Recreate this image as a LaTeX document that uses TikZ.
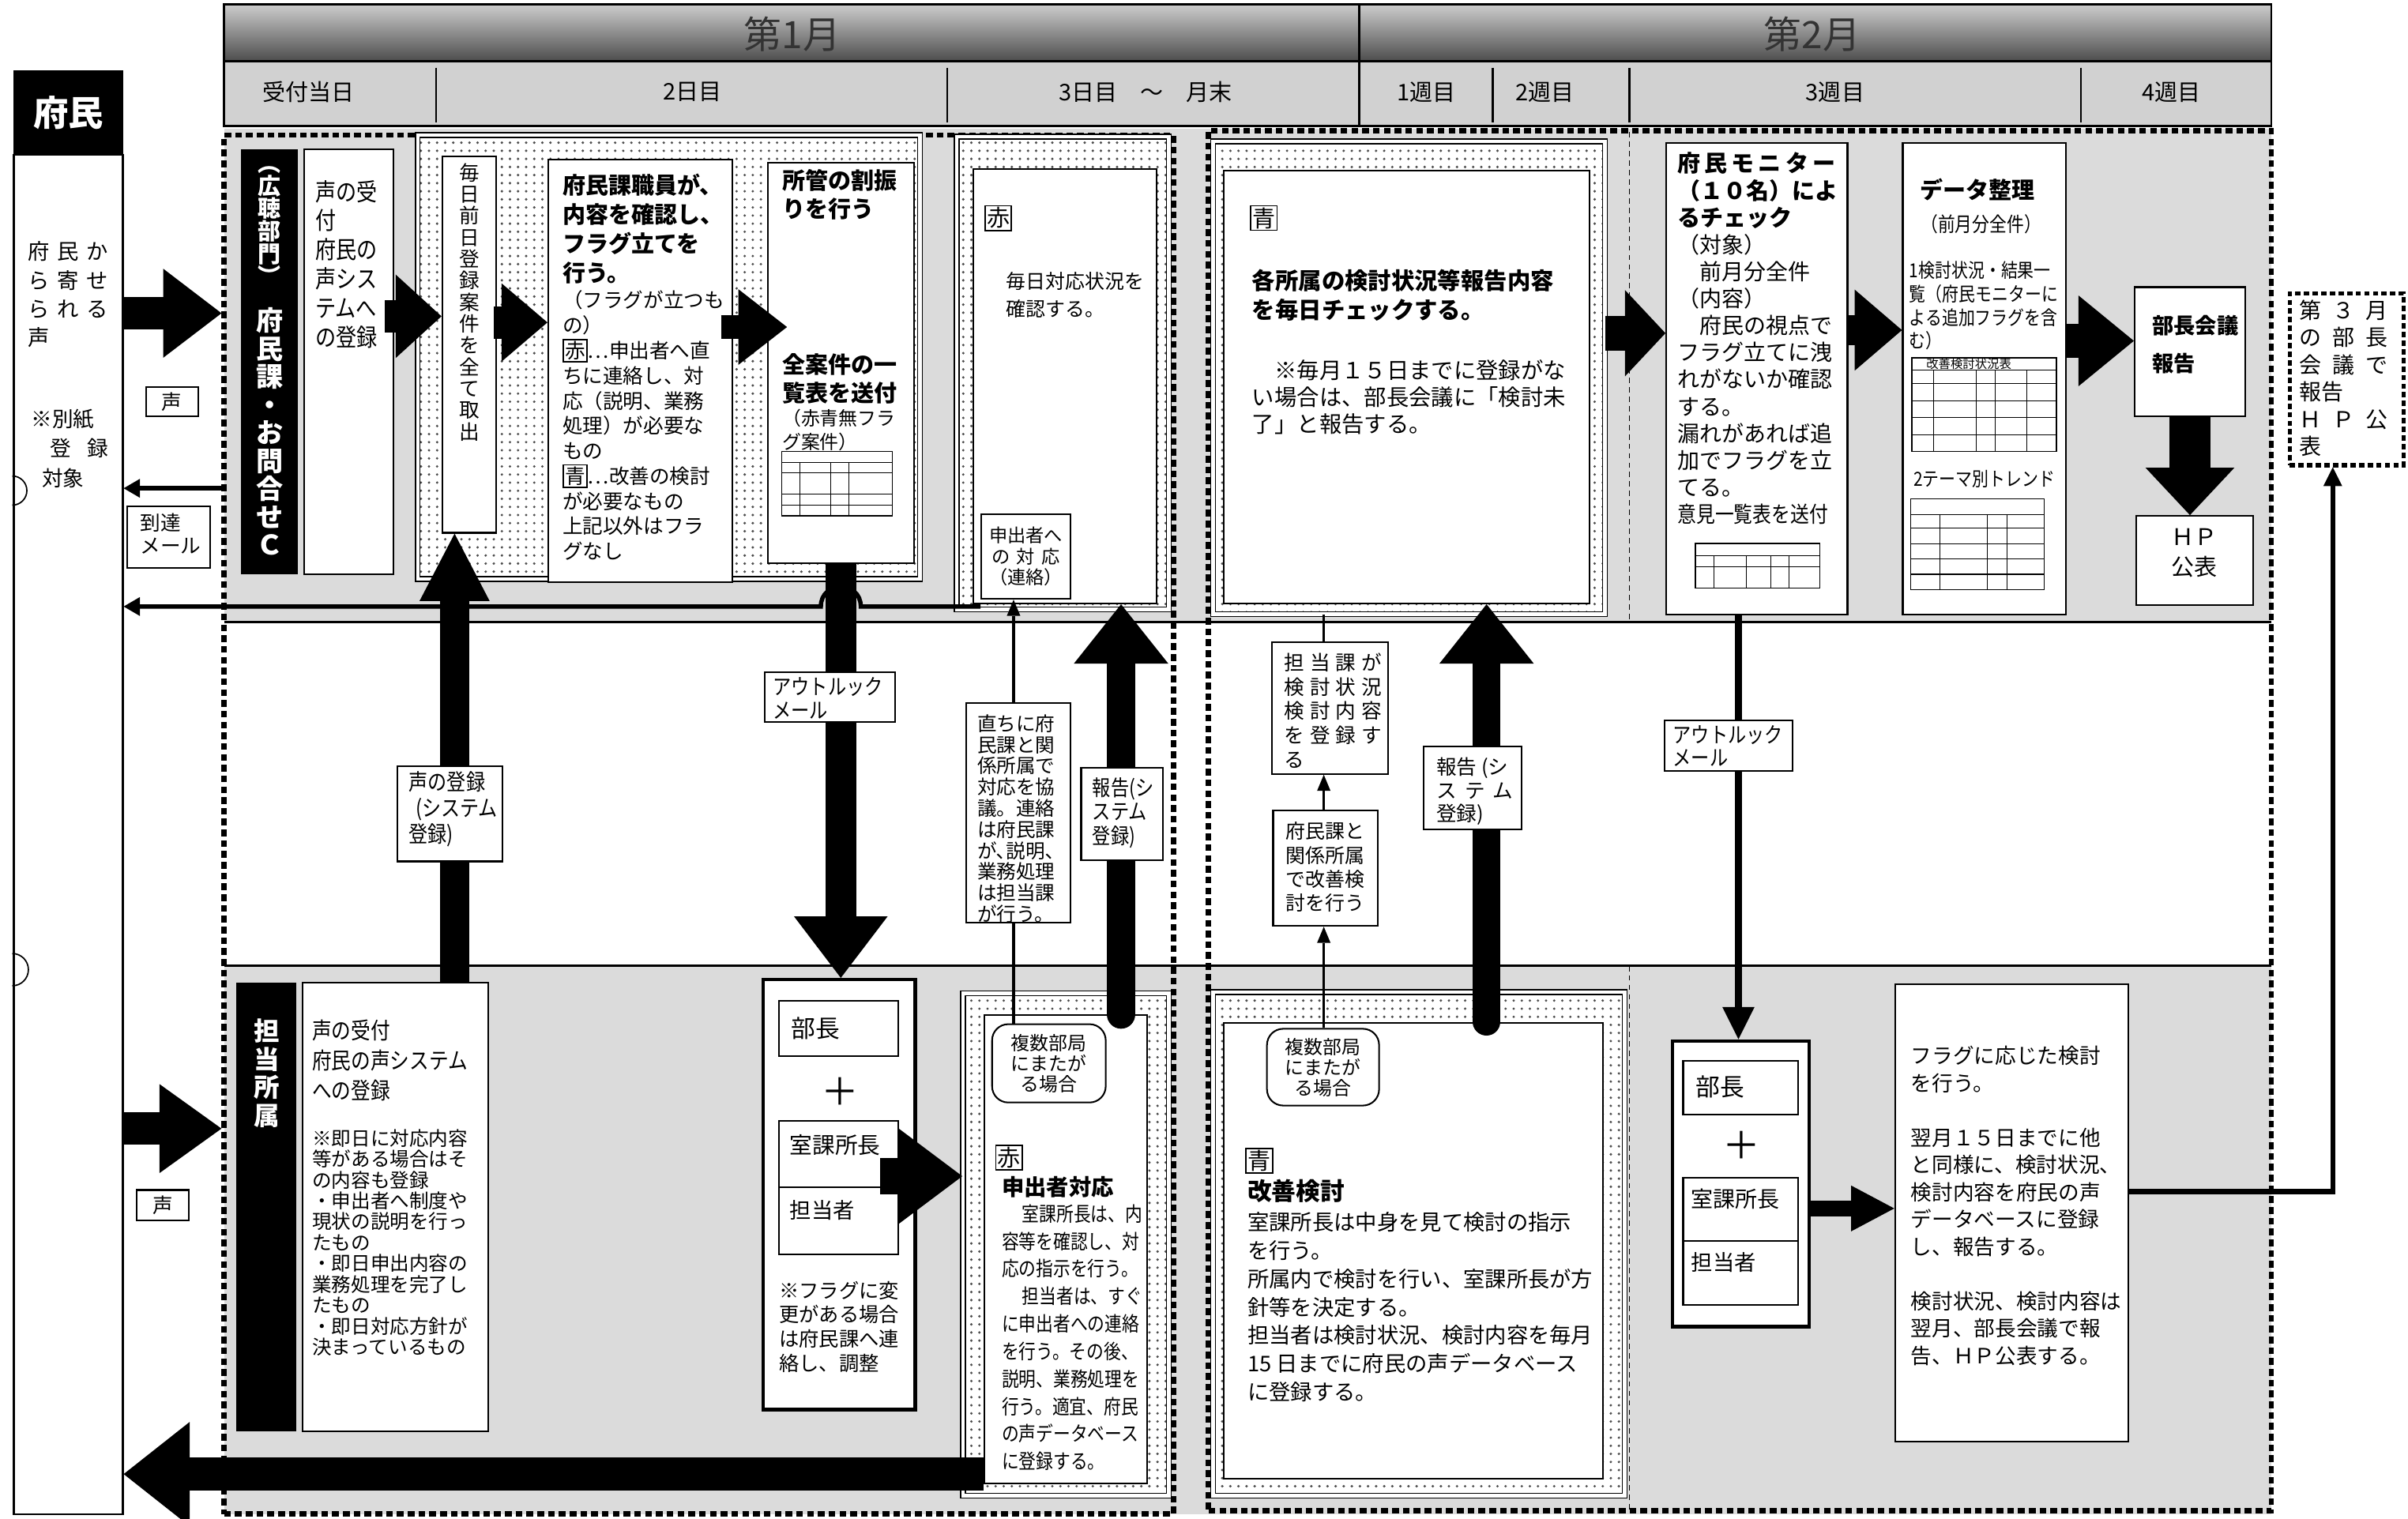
\documentclass[tikz,border=0pt]{standalone}
\usepackage{fontspec}
\setmainfont{Noto Sans CJK JP}
\setsansfont{Noto Sans CJK JP}
\newfontfamily\cond[FakeStretch=0.85]{Noto Sans CJK JP}
\usetikzlibrary{arrows.meta,fit,calc,patterns}
\newcommand\waku[1]{{\setlength{\fboxsep}{0.4pt}\setlength{\fboxrule}{0.5pt}\fbox{#1}}}
\newcommand\fs[2]{\fontsize{#1}{#2}\selectfont\lineskiplimit=-20pt\relax}
\tikzset{
  bx/.style={draw, line width=0.6pt, fill=white, inner sep=0pt},
  tbx/.style={draw, line width=1.3pt, fill=white, inner sep=0pt},
  grp/.style={draw, line width=0.45pt, double, double distance=1.3pt, preaction={fill=white}, pattern=dots, pattern color=black!70, inner sep=0pt},
  blk/.style={fill=black, inner sep=0pt},
  txt/.style={inner sep=0pt, align=left, anchor=north west},
  ctxt/.style={inner sep=0pt, align=center},
  frm/.style={draw, inner sep=0pt, line width=2pt, dash pattern=on 2.5pt off 1.5pt},
  thind/.style={line width=0.5pt, dash pattern=on 2pt off 1.5pt},
  fat/.style n args={3}{line width=#1, -{Triangle[length=#2, width=#3, line width=0pt]}},
  fatr/.style n args={3}{line width=#1, line cap=round, -{Triangle[length=#2, width=#3, line width=0pt]}},
  thinL/.style={line width=1.6pt, -{Triangle[length=6pt, width=7pt, line width=0pt]}},
  thinl/.style={line width=0.9pt},
  thinA/.style={line width=0.9pt, -{Triangle[length=6pt, width=5pt, line width=0pt]}},
  medA/.style={line width=2.5pt, -{Triangle[length=12pt, width=12pt, line width=0pt]}},
  medB/.style={line width=1.8pt, -{Triangle[length=7pt, width=7pt, line width=0pt]}},
  tabl/.style={line width=0.3pt},
}
\begin{document}
\begin{tikzpicture}[x=0.02cm, y=-0.02cm]
\fill[white] (0,0) rectangle (1568,989);
\useasboundingbox (0,0) rectangle (1568,989);

% ---------- lanes ----------
\fill[black!14] (146,84) rectangle (1479,405);
\fill[black!14] (146,629) rectangle (1479,986);
\draw[line width=0.8pt] (146,405) -- (1479,405);
\draw[line width=0.8pt] (146,629) -- (1479,629);
\draw[thind] (1061,86) -- (1061,405);
\draw[thind] (1061,629) -- (1061,984);
\node[frm, fit={(146,88)(764,986)}] (frameA) {};
\node[frm, fit={(787,85)(1479,984)}] (frameB) {};

% ---------- header ----------
\node[fit={(146,3)(1479,40)}, inner sep=0pt, draw, line width=0.8pt, top color=black!20, bottom color=black!70] (monthrow) {};
\node[fit={(146,40)(1479,82)}, inner sep=0pt, draw, line width=0.8pt, fill=black!18] (dayrow) {};
\draw[line width=0.8pt] (885,3) -- (885,82);
\foreach \xx in {284,617,972,1061,1355} \draw[line width=0.6pt] (\xx,44) -- (\xx,80);
\node[ctxt, font=\fs{14}{16}, text=black!80] (m1) at (516,22) {第1月};
\node[ctxt, font=\fs{14}{16}, text=black!80] (m2) at (1180,22) {第2月};
\node[ctxt, font=\fs{8.5}{10}] (d1) at (201,60) {受付当日};
\node[ctxt, font=\fs{8.5}{10}] (d2) at (451,60) {2日目};
\node[ctxt, font=\fs{8.5}{10}] (d3) at (746,60) {3日目　～　月末};
\node[ctxt, font=\fs{8.5}{10}] (d4) at (929,60) {1週目};
\node[ctxt, font=\fs{8.5}{10}] (d5) at (1006,60) {2週目};
\node[ctxt, font=\fs{8.5}{10}] (d6) at (1195,60) {3週目};
\node[ctxt, font=\fs{8.5}{10}] (d7) at (1414,60) {4週目};

% ---------- left column ----------
\node[blk, fit={(9,46)(80,101)}] (fuminhead) {};
\node[ctxt, text=white, font=\bfseries\fs{13}{15}] (fuminlbl) at (fuminhead.center) {府民};
\node[bx, fit={(9,101)(80,986)}] (fuminbody) {};
\node[txt, font=\fs{8}{10.6}] (fuminT1) at (18,157) {府\kern2.8pt民\kern2.8ptか\\ら\kern2.8pt寄\kern2.8ptせ\\ら\kern2.8ptれ\kern2.8ptる\\声};
\node[txt, font=\fs{7.8}{11}] (fuminT2) at (20,266) {※別紙\\\hspace*{7pt}登\kern6pt録\\\hspace*{4pt}対象};
\draw[line width=0.5pt] (8,310) arc[start angle=90, end angle=-90, radius=0.19cm];
\draw[line width=0.5pt] (8,621) arc[start angle=90, end angle=-90, radius=0.21cm];

% ---------- upper lane ----------
\node[blk, fit={(157,97)(194,374)}] (kouchou) {};
\node[ctxt, anchor=north, text=white, font=\bfseries\fs{8.5}{8.4}] (kt1) at (175.5,108) {︵\\広\\聴\\部\\門\\︶};
\node[ctxt, anchor=north, text=white, font=\bfseries\fs{10}{10.4}] (kt2) at (175.5,200) {府\\民\\課\\・\\お\\問\\合\\せ\\Ｃ};
\node[bx, fit={(198,97)(256,374)}] (koe1) {};
\node[txt, font=\cond\fs{9}{10.8}] (koe1t) at (205,117) {声の受\\付\\府民の\\声シス\\テムへ\\の登録};

\node[grp, fit={(272,88)(599,377)}] (grp1) {};
\node[bx, fit={(288,102)(323,347)}] (maiban) {};
\node[ctxt, anchor=north, font=\fs{7.5}{8}] (maibant) at (305.5,106) {毎\\日\\前\\日\\登\\録\\案\\件\\を\\全\\て\\取\\出};
\node[bx, fit={(357,104)(477,379)}] (shokuin) {};
\node[txt, font=\bfseries\fs{8.5}{10.8}] (shokuint1) at (366,113) {府民課職員が、\\内容を確認し、\\フラグ立てを\\行う。};
\node[txt, font=\fs{7.5}{9.3}] (shokuint2) at (366,189) {（フラグが立つも\\の）\\\waku{赤}…申出者へ直\\ちに連絡し、対\\応（説明、業務\\処理）が必要な\\もの\\\waku{青}…改善の検討\\が必要なもの\\上記以外はフラ\\グなし};
\node[bx, fit={(500,106)(595,367)}] (shokan) {};
\node[txt, font=\bfseries\fs{8.5}{10.5}] (shokant1) at (509,110) {所管の割振\\りを行う};
\node[txt, font=\bfseries\fs{8.5}{10.5}] (shokant2) at (509,230) {全案件の一\\覧表を送付};
\node[txt, font=\fs{7}{9}] (shokant3) at (509,266) {（赤青無フラ\\グ案件）};
\node[fit={(509,294)(581,336)}, draw, line width=0.4pt, inner sep=0pt, fill=white] (tab1) {};
\foreach \yy in {301,308,322,329} \draw[tabl] (509,\yy) -- (581,\yy);
\foreach \xx in {521,541,553} \draw[tabl] (\xx,301) -- (\xx,336);

\node[grp, fit={(623,89)(761,397)}] (grpAka1) {};
\node[bx, fit={(634,110)(753,393)}] (akaIn1) {};
\node[ctxt, font=\fs{8.5}{10}] (akaW1) at (650,142) {\waku{赤}};
\node[txt, font=\fs{7.3}{10.3}] (akaT1) at (655,177) {毎日対応状況を\\確認する。};
\node[bx, fit={(639,335)(697,390)}] (moushide) {};
\node[ctxt, font=\fs{6.8}{7.8}] (moushidet) at (moushide.center) {申出者へ\\の\kern2.5pt対\kern2.5pt応\\（連絡）};

\node[grp, fit={(790,92)(1045,400)}] (grpAo1) {};
\node[bx, fit={(797,111)(1035,393)}] (aoIn1) {};
\node[ctxt, font=\fs{8.5}{10}] (aoW1) at (823,142) {\waku{青}};
\node[txt, font=\bfseries\fs{8.6}{10.8}] (aoT1) at (815,175) {各所属の検討状況等報告内容\\を毎日チェックする。};
\node[txt, font=\fs{8.3}{10}] (aoT2) at (815,234) {\hspace*{1em}※毎月１５日までに登録がな\\い場合は、部長会議に「検討未\\了」と報告する。};

\node[bx, fit={(1085,93)(1203,400)}] (monitor) {};
\node[txt, font=\bfseries\fs{8.5}{10}] (monT1) at (1092,99) {府\kern1.5pt民\kern1.5ptモ\kern1.5ptニ\kern1.5ptタ\kern1.5ptー\\（１０名）によ\\るチェック};
\node[txt, font=\fs{8.2}{10}] (monT2) at (1092,152) {（対象）\\\hspace*{1em}前月分全件\\（内容）\\\hspace*{1em}府民の視点で\\フラグ立てに洩\\れがないか確認\\する。\\漏れがあれば追\\加でフラグを立\\てる。\\{\cond 意見一覧表を送付}};
\node[fit={(1104,354)(1185,383)}, draw, line width=0.4pt, inner sep=0pt, fill=white] (tab2) {};
\foreach \yy in {362,369} \draw[tabl] (1104,\yy) -- (1185,\yy);
\foreach \xx in {1116,1137,1153,1165} \draw[tabl] (\xx,362) -- (\xx,383);

\node[bx, fit={(1239,93)(1345,400)}] (data) {};
\node[txt, font=\bfseries\fs{8.5}{10}] (dataT1) at (1250,116) {データ整理};
\node[ctxt, font=\cond\fs{7.5}{9}] (dataT2) at (1290,146) {（前月分全件）};
\node[txt, font=\cond\fs{7.2}{8.7}] (dataT3) at (1243,170) {1検討状況・結果一\\覧（府民モニターに\\よる追加フラグを含\\む）};
\node[fit={(1245,233)(1339,294)}, draw, line width=0.4pt, inner sep=0pt, fill=white] (tab3) {};
\node[ctxt, font=\fs{4.5}{5}] (tab3t) at (1282,237) {改善検討状況表};
\foreach \yy in {241,250,261,272,283} \draw[tabl] (1245,\yy) -- (1339,\yy);
\foreach \xx in {1259,1287,1299,1320} \draw[tabl] (\xx,241) -- (\xx,294);
\node[ctxt, font=\cond\fs{7.2}{9}] (dataT4) at (1292,312) {2テーマ別トレンド};
\node[fit={(1244,325)(1331,384)}, draw, line width=0.4pt, inner sep=0pt, fill=white] (tab4) {};
\foreach \yy in {335,344,354,364,374} \draw[tabl] (1244,\yy) -- (1331,\yy);
\foreach \xx in {1263,1294,1307} \draw[tabl] (\xx,335) -- (\xx,384);

\node[bx, fit={(1390,187)(1462,271)}] (kaigi) {};
\node[txt, font=\bfseries\fs{8}{14}] (kaigit) at (1401,205) {部長会議\\報告};
\node[bx, fit={(1391,336)(1467,394)}] (hp) {};
\node[ctxt, font=\fs{8.5}{11}] (hpt) at (1429,360) {ＨＰ\\公表};

\node[fit={(1491,191)(1565,303)}, draw, inner sep=0pt, line width=1.5pt, dash pattern=on 2pt off 1.2pt, fill=white] (dai3) {};
\node[txt, font=\fs{8.2}{10.1}] (dai3t) at (1497,195) {第\kern4pt３\kern4pt月\\の\kern4pt部\kern4pt長\\会\kern4pt議\kern4ptで\\報告\\Ｈ\kern4ptＰ\kern4pt公\\表};

% ---------- lower lane ----------
\node[blk, fit={(154,640)(193,932)}] (tantou) {};
\node[ctxt, anchor=north, text=white, font=\bfseries\fs{9.5}{10.5}] (tantout) at (173.5,663) {担\\当\\所\\属};
\node[bx, fit={(197,640)(318,932)}] (koe2) {};
\node[txt, font=\cond\fs{8.5}{11}] (koe2t1) at (203,664) {声の受付\\府民の声システム\\への登録};
\node[txt, font=\fs{7.2}{7.75}] (koe2t2) at (203,735) {※即日に対応内容\\等がある場合はそ\\の内容も登録\\・申出者へ制度や\\現状の説明を行っ\\たもの\\・即日申出内容の\\業務処理を完了し\\たもの\\・即日対応方針が\\決まっているもの};

\node[tbx, fit={(497,638)(596,918)}] (buchou1) {};
\node[bx, fit={(507,652)(585,688)}] (bu1a) {};
\node[anchor=west, inner sep=0pt, font=\fs{9}{10}] (bu1at) at (515,670) {部長};
\node[ctxt, font=\fs{14}{14}] (plus1) at (547,711) {＋};
\node[bx, fit={(507,730)(585,773)}] (bu1b) {};
\node[anchor=west, inner sep=0pt, font=\fs{8.4}{10}] (bu1bt) at (514,746) {室課所長};
\node[bx, fit={(507,773)(585,817)}] (bu1c) {};
\node[anchor=west, inner sep=0pt, font=\fs{8}{10}] (bu1ct) at (514,788) {担当者};
\node[txt, font=\fs{7.4}{9}] (bu1note) at (507,834) {※フラグに変\\更がある場合\\は府民課へ連\\絡し、調整};

\node[grp, fit={(627,647)(761,974)}] (grpAka2) {};
\node[bx, fit={(641,661)(747,966)}] (akaIn2) {};
\node[bx, rounded corners=6pt, fit={(646,667)(720,718)}] (fukusu1) {};
\node[ctxt, font=\fs{7}{7.6}] (fukusu1t) at (fukusu1.center) {複数部局\\にまたが\\る場合};
\node[ctxt, font=\fs{8.5}{10}] (akaW2) at (657,754) {\waku{赤}};
\node[txt, font=\bfseries\fs{8.3}{10}] (akaT2a) at (652,766) {申出者対応};
\node[txt, font=\cond\fs{7.5}{10.2}] (akaT2b) at (652,784) {\hspace*{1em}室課所長は、内\\容等を確認し、対\\応の指示を行う。\\\hspace*{1em}担当者は、すぐ\\に申出者への連絡\\を行う。その後、\\説明、業務処理を\\行う。適宜、府民\\の声データベース\\に登録する。};

\node[grp, fit={(790,646)(1058,974)}] (grpAo2) {};
\node[bx, fit={(797,666)(1044,963)}] (aoIn2) {};
\node[bx, rounded corners=6pt, fit={(825,670)(898,720)}] (fukusu2) {};
\node[ctxt, font=\fs{7}{7.6}] (fukusu2t) at (fukusu2.center) {複数部局\\にまたが\\る場合};
\node[ctxt, font=\fs{8.5}{10}] (aoW2) at (820,756) {\waku{青}};
\node[txt, font=\bfseries\fs{9}{10}] (aoT2a) at (812,768) {改善検討};
\node[txt, font=\fs{8}{10.5}] (aoT2b) at (812,789) {室課所長は中身を見て検討の指示\\を行う。\\所属内で検討を行い、室課所長が方\\針等を決定する。\\担当者は検討状況、検討内容を毎月\\15 日までに府民の声データベース\\に登録する。};

\node[tbx, fit={(1089,678)(1178,864)}] (buchou2) {};
\node[bx, fit={(1096,691)(1171,726)}] (bu2a) {};
\node[anchor=west, inner sep=0pt, font=\fs{9}{10}] (bu2at) at (1104,708) {部長};
\node[ctxt, font=\fs{14}{14}] (plus2) at (1134,746) {＋};
\node[bx, fit={(1096,767)(1171,808)}] (bu2b) {};
\node[anchor=west, inner sep=0pt, font=\fs{8.2}{10}] (bu2bt) at (1101,781) {室課所長};
\node[bx, fit={(1096,808)(1171,850)}] (bu2c) {};
\node[anchor=west, inner sep=0pt, font=\fs{8}{10}] (bu2ct) at (1101,822) {担当者};

\node[bx, fit={(1234,641)(1386,939)}] (flag) {};
\node[txt, font=\fs{7.8}{10.1}] (flagt) at (1244,681) {フラグに応じた検討\\を行う。\\[10.1pt]翌月１５日までに他\\と同様に、検討状況、\\検討内容を府民の声\\データベースに登録\\し、報告する。\\[10.1pt]検討状況、検討内容は\\翌月、部長会議で報\\告、ＨＰ公表する。};

% ---------- coordinates ----------
\coordinate (yA1) at (0,204);
\coordinate (yT1) at (0,318);
\coordinate (yA2) at (0,206);
\coordinate (yA3) at (0,210);
\coordinate (yA4) at (0,213);
\coordinate (yA5) at (0,217);
\coordinate (yA6) at (0,215);
\coordinate (yA7) at (0,222);
\coordinate (yT2) at (0,395);
\coordinate (xA9) at (296,0);
\coordinate (xA11) at (730,0);
\coordinate (xA12) at (968,0);
\coordinate (xL1) at (660,0);
\coordinate (xL2) at (862,0);
\coordinate (xO2) at (1132,0);
\coordinate (yA13) at (0,766);
\coordinate (yA14) at (0,787);
\coordinate (yA15) at (0,960);
\coordinate (yA1b) at (0,735);
\coordinate (yF) at (0,776);
\coordinate (xF) at (1519,0);

% ---------- arrows ----------
\draw[fat={12pt}{21.6pt}{33pt}] (fuminbody.east |- yA1) -- (frameA.west |- yA1);
\draw[fat={12pt}{23pt}{33pt}] (fuminbody.east |- yA1b) -- (frameA.west |- yA1b);
\draw[thinL] (frameA.west |- yT1) -- (fuminbody.east |- yT1);
\draw[thinL] (moushide.west |- yT2) -- ($(shokan.south |- yT2)+(13,0)$) .. controls +(0,-17) and +(0,-17) .. ($(shokan.south |- yT2)+(-13,0)$) -- (fuminbody.east |- yT2);
\draw[fat={12pt}{17pt}{31pt}] ($(koe1.east |- yA2)+(-6,0)$) -- (maiban.west |- yA2);
\draw[fat={12pt}{17pt}{29pt}] ($(maiban.east |- yA3)+(-2,0)$) -- (shokuin.west |- yA3);
\draw[fat={9pt}{18pt}{28pt}] ($(shokuin.east |- yA4)+(-8,0)$) -- ($(shokan.west |- yA4)+(13,0)$);
\draw[fat={13pt}{15pt}{32pt}] (grpAo1.east |- yA5) -- (monitor.west |- yA5);
\draw[fat={11pt}{17.5pt}{30pt}] (monitor.east |- yA6) -- (data.west |- yA6);
\draw[fat={12.5pt}{20.5pt}{33.6pt}] (data.east |- yA7) -- (kaigi.west |- yA7);
\draw[fat={15.4pt}{17.6pt}{33pt}] (kaigi.south) -- (kaigi.south |- hp.north);
\draw[fat={10.8pt}{25pt}{26pt}] (koe2.north -| xA9) -- (maiban.south -| xA9);
\draw[fat={11.4pt}{22.8pt}{34.7pt}] (shokan.south) -- (shokan.south |- buchou1.north);
\draw[fatr={10.8pt}{22pt}{35pt}] (akaIn2.north -| xA11) -- (akaIn1.south -| xA11);
\draw[fatr={10.2pt}{22pt}{35pt}] (aoIn2.north -| xA12) -- (aoIn1.south -| xA12);
\draw[fat={13.7pt}{24pt}{36pt}] ($(buchou1.east |- yA13)+(-24,0)$) -- (grpAka2.west |- yA13);
\draw[fat={6pt}{16pt}{17pt}] (buchou2.east |- yA14) -- (flag.west |- yA14);
\draw[fat={12.5pt}{24.5pt}{38.7pt}] (akaIn2.west |- yA15) -- (fuminbody.east |- yA15);
\draw[medA] (monitor.south -| xO2) -- (buchou2.north -| xO2);
\draw[medB] (flag.east |- yF) -| (dai3.south -| xF);

% ---------- middle labels ----------
\node[bx, fit={(259,499)(327,561)}] (tourokuL) {};
\node[txt, font=\cond\fs{8.3}{9.7}] (tourokuLt) at (266,502) {声の登録\\\hspace*{0.3em}(システム\\登録)};
\node[bx, fit={(498,438)(583,470)}] (outlook1) {};
\node[txt, font=\cond\fs{8}{8.5}] (outlook1t) at (503,441) {アウトルック\\メール};
\node[bx, fit={(629,458)(697,601)}] (chokuni) {};
\node[txt, font=\fs{7.2}{7.85}] (chokunit) at (636,465) {直ちに府\\民課と関\\係所属で\\対応を協\\議。連絡\\は府民課\\が､説明､\\業務処理\\は担当課\\が行う。};
\node[bx, fit={(704,500)(757,560)}] (houkoku1) {};
\node[txt, font=\cond\fs{8}{9}] (houkoku1t) at (711,506) {報告(シ\\ステム\\登録)};
\node[bx, fit={(828,418)(904,504)}] (tantouka) {};
\node[txt, font=\fs{7.5}{9}] (tantoukat) at (836,425) {担\kern2pt当\kern2pt課\kern2ptが\\検\kern2pt討\kern2pt状\kern2pt況\\検\kern2pt討\kern2pt内\kern2pt容\\を\kern2pt登\kern2pt録\kern2ptす\\る};
\node[bx, fit={(829,528)(897,603)}] (fkankei) {};
\node[txt, font=\fs{7.3}{8.9}] (fkankeit) at (837,535) {府民課と\\関係所属\\で改善検\\討を行う};
\node[bx, fit={(927,486)(991,540)}] (houkoku2) {};
\node[txt, font=\fs{7.5}{8.7}] (houkoku2t) at (935,493) {報告 (シ\\ス\kern3ptテ\kern3ptム\\登録)};
\node[bx, fit={(1084,469)(1167,502)}] (outlook2) {};
\node[txt, font=\cond\fs{8}{8.5}] (outlook2t) at (1089,472) {アウトルック\\メール};

\draw[thinl] (fukusu1.north -| xL1) -- (chokuni.south -| xL1);
\draw[thinA] (chokuni.north -| xL1) -- (moushide.south -| xL1);
\draw[thinA] (fukusu2.north -| xL2) -- (fkankei.south -| xL2);
\draw[thinA] (fkankei.north -| xL2) -- (tantouka.south -| xL2);
\draw[thinl] (tantouka.north -| xL2) -- (grpAo1.south -| xL2);

% ---------- left small labels ----------
\node[bx, fit={(95,252)(129,271)}] (koeL1) {};
\node[ctxt, font=\fs{7.5}{8}] (koeL1t) at (koeL1.center) {声};
\node[bx, fit={(83,330)(137,370)}] (toutatsu) {};
\node[txt, font=\fs{7.5}{8.5}] (toutatsut) at (91,334) {到達\\メール};
\node[bx, fit={(89,775)(123,795)}] (koeL2) {};
\node[ctxt, font=\fs{7.5}{8}] (koeL2t) at (koeL2.center) {声};
\end{tikzpicture}
\end{document}
